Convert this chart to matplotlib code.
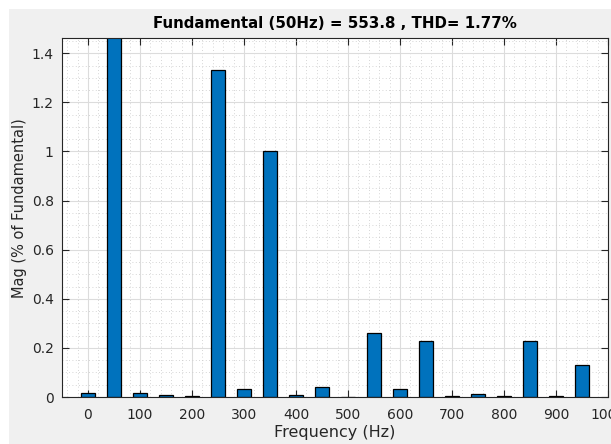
import matplotlib
matplotlib.use('Agg')
import matplotlib.pyplot as plt
from matplotlib.patches import Rectangle
from matplotlib.ticker import MultipleLocator, FuncFormatter

# harmonic spectrum (percent of fundamental), 50 Hz steps
freqs = [0, 50, 100, 150, 200, 250, 300, 350, 400, 450,
         500, 550, 600, 650, 700, 750, 800, 850, 900, 950]
mags = [0.016, 100.0, 0.016, 0.010, 0.003, 1.33, 0.033, 1.0, 0.010, 0.041,
        0.001, 0.260, 0.031, 0.228, 0.003, 0.014, 0.003, 0.228, 0.003, 0.132]

titulo = 'Fundamental (50Hz) = 553.8 , THD= 1.77%'
TXT = (0.15, 0.15, 0.15)

plt.rcParams['font.family'] = ['DejaVu Sans']

fig = plt.figure(figsize=(6.11, 4.44), dpi=100)
fig.patch.set_facecolor('white')
# fundo cinza estilo MATLAB, com faixa branca em cima e à esquerda
fig.patches.append(Rectangle((9 / 611, 0), 1 - 9 / 611, 1 - 9 / 444,
                             transform=fig.transFigure, facecolor='#f0f0f0',
                             edgecolor='none', zorder=-10))

ax = fig.add_axes([62 / 611, 1 - 397 / 444, (608 - 62) / 611, (397 - 38) / 444])
ax.set_facecolor('white')
ax.bar(freqs, mags, width=26, color='#0072BD', edgecolor='black',
       linewidth=0.9, zorder=2)

ax.set_xlim(-50, 1000)
ax.set_ylim(0, 1.462)
ax.xaxis.set_major_locator(MultipleLocator(100))
ax.xaxis.set_minor_locator(MultipleLocator(20))
ax.yaxis.set_major_locator(MultipleLocator(0.2))
ax.yaxis.set_minor_locator(MultipleLocator(0.05))
ax.yaxis.set_major_formatter(FuncFormatter(lambda v, p: f'{v:g}'))

ax.set_axisbelow(True)
ax.grid(which='major', color='#dcdcdc', linewidth=0.8)
ax.grid(which='minor', color='#c8c8c8', linewidth=0.6, linestyle=(0, (1, 3)))

ax.tick_params(which='major', direction='in', length=5, width=0.8,
               top=True, right=True, colors=TXT, labelsize=10)
ax.tick_params(axis='x', pad=8)
ax.tick_params(axis='y', pad=6)
ax.tick_params(which='minor', length=0)
for sp in ax.spines.values():
    sp.set_color(TXT)
    sp.set_linewidth(0.8)
    sp.set_zorder(3)

ax.set_title(titulo, fontsize=10.8, fontweight='bold', color='black', pad=7)
ax.set_xlabel('Frequency (Hz)', fontsize=11.5, color=TXT, labelpad=2)
ax.set_ylabel('Mag (% of Fundamental)', fontsize=10.5, color=TXT)
ax.yaxis.set_label_coords(-0.064, 0.526)

fig.savefig('out.png', dpi=100, facecolor=fig.get_facecolor())
